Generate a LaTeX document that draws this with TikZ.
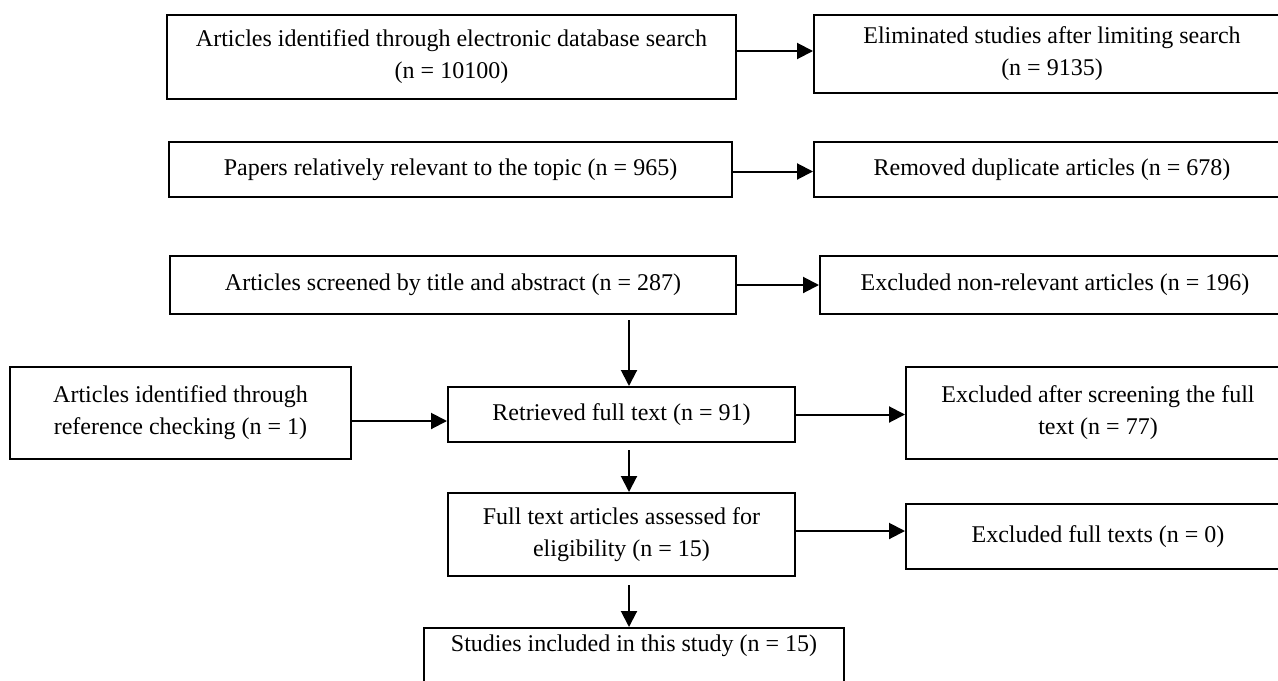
\documentclass[tikz,border=0pt]{standalone}
\usepackage{fontspec}
\setmainfont{Liberation Serif}
\usetikzlibrary{arrows.meta}
\usetikzlibrary{positioning}

\tikzset{
    box/.style={shape=rectangle, draw=black, line width=1pt, align=center, inner sep=2pt,
        font=\fontsize{12}{16}\selectfont},
    arr/.style={-{Triangle[length=8pt,width=8pt]}, line width=1pt}
}

\begin{document}
\begin{tikzpicture}[x=0.5pt, y=-0.5pt]
        \useasboundingbox (0,0) rectangle (1278,680);
        \clip (0,0) rectangle (1278,680);

        % main column
        \node (b1) at (451.5,57) [box, minimum width=284.5pt, minimum height=42pt] {Articles identified through electronic database search\\(n = 10100)};
        \node (b3) at (450.5,169.5) [box, minimum width=281.5pt, minimum height=27.5pt] {Papers relatively relevant to the topic (n = 965)};
        \node (b5) at (453,285) [box, minimum width=283pt, minimum height=29pt] {Articles screened by title and abstract (n = 287)};
        \node (b8) at (621.5,414.5) [box, minimum width=173.5pt, minimum height=27.5pt] {Retrieved full text (n = 91)};
        \node (b10) at (621.5,534.5) [box, minimum width=173.5pt, minimum height=41.5pt] {Full text articles assessed for\\eligibility (n = 15)};
        \node (b12) at (634,627) [box, anchor=north, align=left, minimum width=210pt, text height=9.5pt, text depth=20pt] {Studies included in this study (n = 15)};

        % extra source
        \node (b7) at (180.5,413) [box, minimum width=170.5pt, minimum height=46pt] {Articles identified through\\reference checking (n = 1)};

        % removed
        \node (b2) at (1052,54) [box, minimum width=238pt, minimum height=39pt] {Eliminated studies after limiting search\\(n = 9135)};
        \node (b4) at (1052,169.5) [box, minimum width=238pt, minimum height=27.5pt] {Removed duplicate articles (n = 678)};
        \node (b6) at (1055,285) [box, minimum width=235pt, minimum height=29pt] {Excluded non-relevant articles (n = 196)};
        \node (b9) at (1098,413) [box, minimum width=192pt, minimum height=46pt] {Excluded after screening the full\\text (n = 77)};
        \node (b11) at (1098,536.5) [box, minimum width=192pt, minimum height=32.5pt] {Excluded full texts (n = 0)};

        % spine
        \coordinate (spine) at (629,0);

        % connections
        \draw[arr] ([yshift=1.5pt]b1.east |- b2.west) -- ([yshift=1.5pt]b2.west);
        \draw[arr] ([yshift=-1pt]b3.east) -- ([yshift=-1pt]b3.east -| b4.west);
        \draw[arr] (b5.east) -- (b5.east -| b6.west);
        \draw[arr] ([yshift=-4pt]b7.east) -- ([yshift=-4pt]b7.east -| b8.west);
        \draw[arr] (b8.east) -- (b8.east -| b9.west);
        \draw[arr] ([yshift=1.75pt]b10.east) -- ([yshift=1.75pt]b10.east -| b11.west);
        \draw[arr, shorten <=2.5pt] (b5.south -| spine) -- (b8.north -| spine);
        \draw[arr, shorten <=3.5pt] (b8.south -| spine) -- (b10.north -| spine);
        \draw[arr, shorten <=4pt] (b10.south -| spine) -- (b12.north -| spine);
\end{tikzpicture}
\end{document}
